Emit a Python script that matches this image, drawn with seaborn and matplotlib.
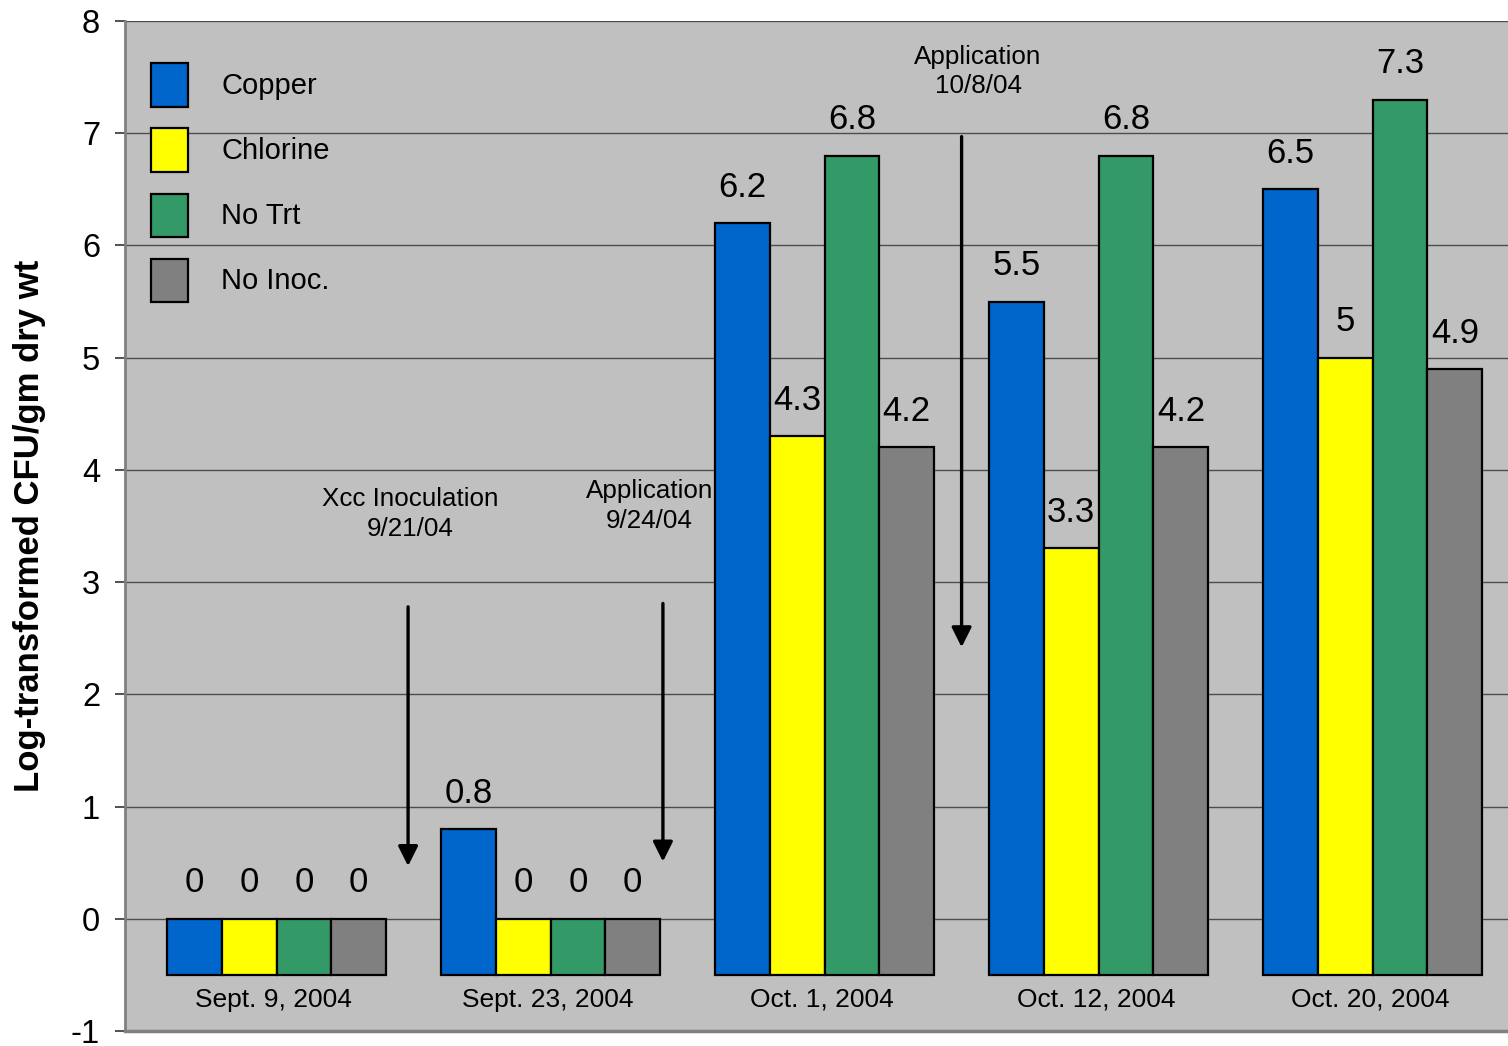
import pandas as pd
import seaborn as sns
import matplotlib.pyplot as plt
from matplotlib.patches import Patch

# === Data ===
dates = ["Sept. 9, 2004", "Sept. 23, 2004", "Oct. 1, 2004", "Oct. 12, 2004", "Oct. 20, 2004"]
treatments = ["Copper", "Chlorine", "No Trt", "No Inoc."]
copper = [0, 0.8, 6.2, 5.5, 6.5]
chlorine = [0, 0, 4.3, 3.3, 5]
no_trt = [0, 0, 6.8, 6.8, 7.3]
no_inoc = [0, 0, 4.2, 4.2, 4.9]
colors = ["#0066CC", "#FFFF00", "#339966", "#808080"]
events = ["Xcc Inoculation\n9/21/04", "Application\n9/24/04", "Application\n10/8/04"]

series = [copper, chlorine, no_trt, no_inoc]
rows = []
for t, vals in zip(treatments, series):
    for d, v in zip(dates, vals):
        rows.append({"date": d, "treatment": t, "value": v})
df = pd.DataFrame(rows)

# bars in the original hang from -0.5, not from zero
baseline = -0.5
df["height"] = df["value"] - baseline

# === Style ===
sns.set_style("ticks")
plt.rcParams["font.family"] = ["Liberation Sans", "DejaVu Sans"]
plt.rcParams["axes.unicode_minus"] = False
plt.rcParams["text.color"] = "black"
plt.rcParams["ytick.labelcolor"] = "black"
plt.rcParams["axes.labelcolor"] = "black"

fig = plt.figure(figsize=(15.08, 10.46), dpi=100)
ax = fig.add_axes([0.0829, 0.0143, 0.9171, 0.9656])
ax.set_facecolor("#C0C0C0")

sns.barplot(
    data=df, x="date", y="height", hue="treatment",
    order=dates, hue_order=treatments, palette=colors,
    saturation=1, width=0.8, gap=0, errorbar=None, legend=False,
    bottom=baseline, edgecolor="black", linewidth=1.6, ax=ax,
)

# === Value labels above bars ===
for container, vals in zip(ax.containers, series):
    for bar, v in zip(container, vals):
        x = bar.get_x() + bar.get_width() / 2
        ax.text(x, v + 0.32, f"{v:g}", ha="center", va="center", fontsize=25)

# === Category labels inside the plot area ===
for i, d in enumerate(dates):
    ax.text(i - 0.01, -0.72, d, ha="center", va="center", fontsize=19)

# === Event arrows ===
arrow_kw = dict(arrowstyle="-|>,head_length=0.6,head_width=0.3", color="black",
                lw=2.4, mutation_scale=20, shrinkA=0, shrinkB=0)
ax.annotate("", xy=(0.48, 0.47), xytext=(0.48, 2.78), arrowprops=arrow_kw)
ax.annotate("", xy=(1.41, 0.51), xytext=(1.41, 2.81), arrowprops=arrow_kw)
ax.annotate("", xy=(2.50, 2.42), xytext=(2.50, 6.97), arrowprops=arrow_kw)
ax.text(0.487, 3.61, events[0], ha="center", va="center", fontsize=18.7, linespacing=1.3)
ax.text(1.36, 3.68, events[1], ha="center", va="center", fontsize=18.7, linespacing=1.3)
ax.text(2.56, 7.55, events[2], ha="center", va="center", fontsize=18.7, linespacing=1.3)

# === Legend ===
handles = [Patch(facecolor=c, edgecolor="black", linewidth=1.6) for c in colors]
ax.legend(handles, treatments, loc="upper left", bbox_to_anchor=(0.019, 0.958),
          frameon=False, fontsize=21, borderpad=0, borderaxespad=0,
          handlelength=1.25, handleheight=1.9, labelspacing=0.75, handletextpad=1.15)

# === Axes ===
ax.set_xlim(-0.553, 4.494)
ax.set_ylim(-1, 8)
ax.set_yticks(range(-1, 9))
ax.set_xticks([])
ax.set_xlabel("")
ax.set_ylabel("Log-transformed CFU/gm dry wt", fontsize=25, fontweight="bold")
ax.yaxis.set_label_coords(-0.057, 0.5)
ax.tick_params(axis="y", labelsize=23.5, length=7, width=1.2, pad=11, color="#333333")
ax.yaxis.grid(True, color="#4d4d4d", linewidth=1.0)
ax.set_axisbelow(True)
for side in ["top", "right"]:
    ax.spines[side].set_visible(False)
ax.spines["left"].set_color("#808080")
ax.spines["left"].set_linewidth(2)
ax.spines["bottom"].set_color("#808080")
ax.spines["bottom"].set_linewidth(2.5)

fig.savefig("out.png", dpi=100)
